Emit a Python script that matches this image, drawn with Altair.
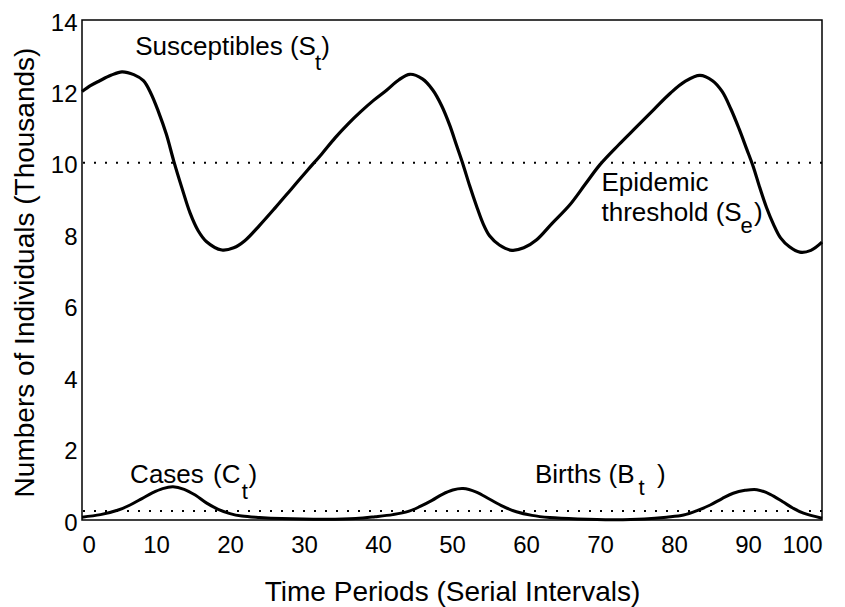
import altair as alt
import pandas as pd

# Susceptibles (thousands)
s_t = [0, 1.2, 2.4, 3.9, 5.4, 7.0, 8.3, 9.3, 10.3, 11.4, 12.4, 13.5, 14.6, 15.7, 16.8, 18.9,
       20.5, 22.0, 24.0, 26.1, 28.3, 30.5, 32.4, 34.2, 36.0, 37.6, 39.4, 41.2, 42.8, 44.3,
       46.0, 47.4, 48.6, 49.7, 50.6, 51.5, 52.4, 53.3, 54.2, 55.1, 56.4, 58.1,
       59.7, 61.4, 63.5, 65.9, 68.0, 70.0, 72.5, 75.0, 77.3, 79.5, 81.5, 83.5,
       85.2, 86.5, 87.7, 88.8, 89.8, 90.7, 91.6, 92.5, 93.4, 94.4, 95.6, 97.0, 98.5, 100]
s_v = [12.0, 12.17, 12.3, 12.45, 12.55, 12.47, 12.3, 11.95, 11.45, 10.8, 10.05, 9.3, 8.6, 8.1, 7.8, 7.56,
       7.62, 7.82, 8.25, 8.74, 9.27, 9.8, 10.25, 10.7, 11.1, 11.42, 11.75, 12.04, 12.32, 12.48,
       12.35, 12.04, 11.6, 11.05, 10.5, 9.95, 9.35, 8.8, 8.3, 7.95, 7.7, 7.55,
       7.62, 7.84, 8.3, 8.82, 9.4, 9.95, 10.5, 11.02, 11.5, 11.95, 12.28, 12.45,
       12.3, 12.0, 11.5, 10.95, 10.4, 9.9, 9.3, 8.75, 8.3, 7.9, 7.65, 7.5, 7.55, 7.78]

# Cases (thousands)
c_t = [0, 2.5, 4.9, 6.5, 8.1, 9.5, 10.9, 12.3, 13.8, 15.3, 16.8, 18.4, 20.0, 21.6, 24.0, 27.0,
       33.0, 37.0, 39.6, 42.0, 44.1, 45.7, 47.3, 48.7, 50.1, 51.5, 53.3, 55.1, 56.9, 58.7,
       60.8, 63.2, 67.0, 72.0, 76.0, 79.0, 81.3, 83.2, 84.9, 86.5, 88.0, 89.6, 91.2, 93.0,
       94.7, 96.1, 97.5, 100]
c_v = [0.08, 0.15, 0.28, 0.42, 0.6, 0.76, 0.88, 0.93, 0.86, 0.70, 0.48, 0.30, 0.18, 0.11, 0.07, 0.04,
       0.02, 0.04, 0.09, 0.15, 0.24, 0.38, 0.55, 0.72, 0.84, 0.88, 0.78, 0.58, 0.38, 0.23,
       0.13, 0.07, 0.03, 0.01, 0.03, 0.08, 0.14, 0.27, 0.42, 0.6, 0.75, 0.83, 0.85, 0.72,
       0.51, 0.33, 0.19, 0.05]

threshold = [10.0]
births = [0.25]

# Annotations
main_text = ["Susceptibles (S", "Epidemic", "threshold (S", "Cases", "(C", "Births (B"]
main_x = [7.2, 70.2, 70.2, 6.5, 17.7, 61.2]
main_y = [13.25, 9.44, 8.6, 1.26, 1.26, 1.26]

sub_text = ["t", "e", "t", "t"]
sub_x = [31.9, 89.8, 22.0, 75.6]
sub_y = [12.8, 8.22, 0.79, 0.9]

par_text = [")", ")", ")", ")"]
par_x = [32.9, 91.4, 23.1, 78.3]
par_y = [13.25, 8.6, 1.26, 1.26]

x_ticks = list(range(0, 101, 10))
y_ticks = list(range(0, 15, 2))

FONT = "Liberation Sans"

s_df = pd.DataFrame({"t": s_t, "v": s_v})
c_df = pd.DataFrame({"t": c_t, "v": c_v})

x_enc = alt.X("t:Q",
              scale=alt.Scale(domain=[0, 100], nice=False, zero=False),
              axis=alt.Axis(values=x_ticks, title="Time Periods (Serial Intervals)",
                            ticks=False, grid=False, domain=False,
                            labelFontSize=24, labelPadding=13, labelFont=FONT,
                            labelColor="black", titleColor="black",
                            titleFont=FONT, titleFontSize=28, titleFontWeight="normal",
                            titleBaseline="alphabetic", titleY=80))
y_enc = alt.Y("v:Q",
              scale=alt.Scale(domain=[0, 14], nice=False),
              axis=alt.Axis(values=y_ticks, title="Numbers of Individuals (Thousands)",
                            ticks=False, grid=False, domain=False,
                            labelFontSize=24, labelPadding=5, labelOffset=3, labelFont=FONT,
                            labelColor="black", titleColor="black",
                            titleFont=FONT, titleFontSize=28, titleFontWeight="normal",
                            titleBaseline="middle", titleX=-57, titleY=252))

s_line = alt.Chart(s_df).mark_line(color="black", strokeWidth=3.2, interpolate="catmull-rom").encode(
    x=x_enc, y=y_enc)
c_line = alt.Chart(c_df).mark_line(color="black", strokeWidth=3.0, interpolate="catmull-rom").encode(
    x="t:Q", y="v:Q")

thr = alt.Chart(pd.DataFrame({"v": threshold})).mark_rule(
    color="black", strokeWidth=2, strokeDash=[2, 9]).encode(y="v:Q")
brt = alt.Chart(pd.DataFrame({"v": births})).mark_rule(
    color="black", strokeWidth=2, strokeDash=[2, 9]).encode(y="v:Q")

main_lbl = alt.Chart(pd.DataFrame({"t": main_x, "v": main_y, "txt": main_text})).mark_text(
    align="left", baseline="middle", fontSize=26, font=FONT, color="black").encode(
    x="t:Q", y="v:Q", text="txt:N")
sub_lbl = alt.Chart(pd.DataFrame({"t": sub_x, "v": sub_y, "txt": sub_text})).mark_text(
    align="center", baseline="middle", fontSize=22, font=FONT, color="black").encode(
    x="t:Q", y="v:Q", text="txt:N")
par_lbl = alt.Chart(pd.DataFrame({"t": par_x, "v": par_y, "txt": par_text})).mark_text(
    align="center", baseline="middle", fontSize=26, font=FONT, color="black").encode(
    x="t:Q", y="v:Q", text="txt:N")

chart = alt.layer(s_line, c_line, thr, brt, main_lbl, sub_lbl, par_lbl).properties(
    width=740, height=500,
    autosize=alt.AutoSizeParams(type="none"),
    padding={"left": 74, "top": 12, "right": 15, "bottom": 87},
    background="white",
).configure_view(stroke="black", strokeWidth=1.5)

chart.save("out.html", embed_options={"renderer": "svg", "actions": False})
